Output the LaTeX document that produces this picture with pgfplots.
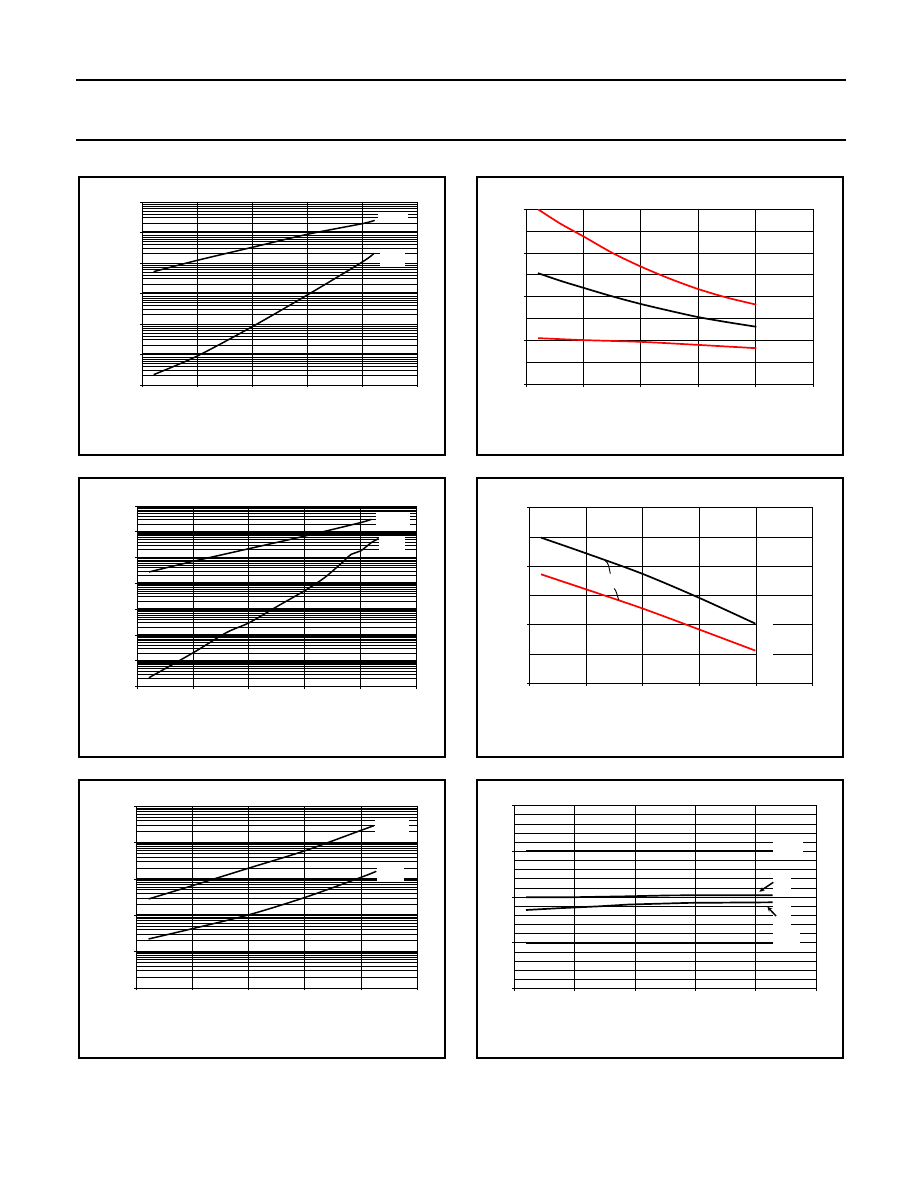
\documentclass[border=0pt]{standalone}
\usepackage{pgfplots}
\pgfplotsset{compat=1.18}
\usetikzlibrary{arrows.meta}
\definecolor{dsred}{RGB}{255,0,0}
\pgfplotsset{
  ds/.style={
    scale only axis, anchor=south west,
    axis line style={line width=0.9pt, black},
    every tick/.style={line width=0.9pt, black},
    major tick length=2.5pt, minor tick length=0pt,
    tick align=outside, tick pos=left,
    xticklabels={}, yticklabels={},
    xmajorgrids, ymajorgrids, yminorgrids,
    major grid style={line width=0.9pt, black},
    minor grid style={line width=0.9pt, black},
    xmin=0, xmax=5, xtick={0,1,2,3,4,5},
  },
  crv/.style={line width=1.5pt, black, smooth, no markers},
  rcrv/.style={line width=1.7pt, dsred, smooth, no markers},
  thickgrid/.style={extra y tick labels={}, extra y tick style={grid=major, major grid style={line width=2pt, black}}},
}
\begin{document}
\begin{tikzpicture}
\begin{scope}[x=1pt,y=1pt]
\useasboundingbox (0,0) rectangle (918,1188);
\fill[white] (0,0) rectangle (918,1188);
\draw[line width=2pt] (76,1108) -- (846,1108);
\draw[line width=2pt] (76,1048) -- (846,1048);
\end{scope}

% ---------- Panel 1 ----------
\begin{axis}[ds, at={(142.3pt,803pt)}, width=275pt, height=183pt,
  ymode=log, ymin=1, ymax=1000000,
  ytick={1,10,100,1000,10000,100000,1000000},
  minor ytick={2,3,4,5,6,7,8,20,30,40,50,60,70,80,200,300,400,500,600,700,800,2000,3000,4000,5000,6000,7000,8000,20000,30000,40000,50000,60000,70000,80000,200000,300000,400000,500000,600000,700000,800000},
  thickgrid, extra y ticks={10,1000,100000}]
\addplot[crv] coordinates {(0.206,5200) (1,12220) (2,32660) (3,87100) (4,195000) (4.224,250600)};
\addplot[crv] coordinates {(0.206,2.18) (1,8.93) (2,81.8) (3,893) (4,10790) (4.212,20750)};
\end{axis}

% ---------- Panel 2 ----------
\begin{axis}[ds, at={(526pt,803.7pt)}, width=287.3pt, height=175pt,
  ymin=0, ymax=8, ytick={0,2,4,6,8}, minor ytick={1,3,5,7}]
\addplot[rcrv] coordinates {(0.209,8.0) (0.6,7.34) (1.0,6.76) (1.5,6.01) (2.0,5.38) (2.5,4.83) (3.0,4.35) (3.5,3.96) (4.008,3.64)};
\addplot[crv, line width=1.7pt] coordinates {(0.209,5.08) (0.6,4.73) (1.0,4.41) (1.5,4.02) (2.0,3.67) (2.5,3.36) (3.0,3.07) (3.5,2.84) (4.008,2.63)};
\addplot[rcrv] coordinates {(0.209,2.11) (1,2.02) (2.0,1.94) (3,1.80) (4.008,1.65)};
\end{axis}

% ---------- Panel 3 ----------
\begin{axis}[ds, at={(137.3pt,501.3pt)}, width=279pt, height=180.7pt,
  ymode=log, ymin=1, ymax=10000000,
  ytick={1,10,100,1000,10000,100000,1000000,10000000},
  minor ytick={2,3,4,5,6,7,8,9,20,30,40,50,60,70,80,90,200,300,400,500,600,700,800,900,2000,3000,4000,5000,6000,7000,8000,9000,20000,30000,40000,50000,60000,70000,80000,90000,200000,300000,400000,500000,600000,700000,800000,900000,2000000,3000000,4000000,5000000,6000000,7000000,8000000,9000000},
  thickgrid, extra y ticks={10,100,1000,10000,100000,1000000}]
\addplot[crv] coordinates {(0.209,27800) (1.004,72100) (2.007,223400) (3.011,691800) (4.002,2275000) (4.194,3062000)};
\addplot[crv] coordinates {(0.209,2.23) (1.004,20.8) (1.595,123.9) (2.007,302.7) (2.521,1340) (3.011,5420) (3.357,16790) (3.656,60260) (3.835,134600) (4.002,181100) (4.194,381100) (4.325,544500)};
\end{axis}

% ---------- Panel 4 ----------
\begin{axis}[ds, at={(529.3pt,504.7pt)}, width=283.4pt, height=175.6pt,
  ymin=0, ymax=6, ytick={0,2,4,6}, minor ytick={1,3,5}]
\addplot[crv, line width=1.7pt] coordinates {(0.206,4.977) (1,4.442) (1.988,3.747) (2.988,2.927) (3.988,2.039)};
\addplot[rcrv] coordinates {(0.206,3.724) (1,3.212) (1.988,2.563) (2.988,1.845) (3.988,1.116)};
\end{axis}

% ---------- Panel 5 ----------
\begin{axis}[ds, at={(136.3pt,200pt)}, width=281pt, height=181.7pt,
  ymode=log, ymin=1, ymax=100000,
  ytick={1,10,100,1000,10000,100000},
  minor ytick={2,3,4,5,6,7,8,9,20,30,40,50,60,70,80,90,200,300,400,500,600,700,800,900,2000,3000,4000,5000,6000,7000,8000,9000,20000,30000,40000,50000,60000,70000,80000,90000},
  thickgrid, extra y ticks={10,100,1000,10000}]
\addplot[crv] coordinates {(0.219,281.8) (1,656.1) (2.011,2009) (3.007,6026) (4.0,21830) (4.229,29380)};
\addplot[crv] coordinates {(0.219,22.34) (1,42.95) (2.011,104.2) (3.007,312.6) (4.0,1112) (4.27,1626)};
\end{axis}

% ---------- Panel 6 ----------
\begin{axis}[ds, at={(514.3pt,199.3pt)}, width=301.7pt, height=183pt,
  ymin=0, ymax=20, ytick={0,5,10,15,20},
  minor ytick={1,2,3,4,6,7,8,9,11,12,13,14,16,17,18,19}]
\addplot[black, line width=1.7pt, no markers] coordinates {(0.194,15.05) (4.282,15.05)};
\addplot[black, line width=1.7pt, no markers] coordinates {(0.194,9.99) (1.0,10.0) (1.9,10.1) (2.6,10.2) (4.282,10.22)};
\addplot[black, line width=1.7pt, no markers] coordinates {(0.194,8.60) (0.75,8.80) (1.4,9.0) (1.9,9.2) (2.9,9.38) (4.282,9.44)};
\addplot[black, line width=1.7pt, no markers] coordinates {(0.194,5.03) (4.282,5.03)};
\end{axis}

\begin{scope}[x=1pt,y=1pt]
% label masks
\fill[white] (378,965) rectangle (408,974);
\fill[white] (380,921) rectangle (405,939);
\fill[white] (376,661) rectangle (410,676);
\fill[white] (379,636) rectangle (405,652);
\fill[white] (756.6,528) rectangle (773.3,570);
\fill[white] (374.7,352) rectangle (409,370);
\fill[white] (377,306) rectangle (404,322);
\fill[white] (772.9,333) rectangle (802.7,350);
\fill[white] (772.9,297) rectangle (790.7,313);
\fill[white] (772.9,260) rectangle (790.7,283);
\fill[white] (772.9,242) rectangle (800,257);
% leaders and arrows
\draw[line width=0.9pt] (605.5,627) .. controls (608.5,625) and (609,621) .. (610.3,614.3);
\draw[line width=0.9pt] (614.2,599.5) .. controls (616.5,597) and (617,593) .. (618.7,588);
\draw[line width=1.5pt, -{Stealth[length=5pt,width=4.5pt]}] (773.3,305.7) -- (759.3,296.3);
\draw[line width=1.5pt, -{Stealth[length=5pt,width=4.5pt]}] (776,272) -- (767.3,281.3);
% panel frames
\draw[line width=2pt] (79,1011) rectangle (445,733);
\draw[line width=2pt] (477,1011) rectangle (843,733);
\draw[line width=2pt] (79,710) rectangle (445,431);
\draw[line width=2pt] (477,710) rectangle (843,431);
\draw[line width=2pt] (79,408) rectangle (445,130);
\draw[line width=2pt] (477,408) rectangle (843,130);
\end{scope}
\end{tikzpicture}
\end{document}
